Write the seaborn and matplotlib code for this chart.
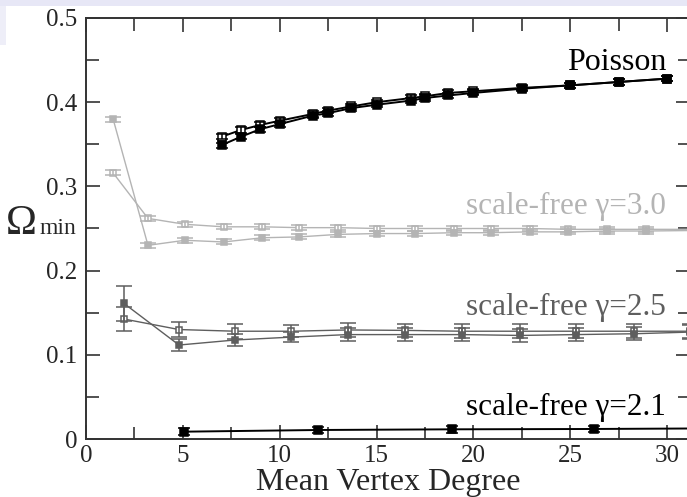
import matplotlib
matplotlib.use("Agg")
import matplotlib.pyplot as plt
import numpy as np
import pandas as pd
import seaborn as sns
from matplotlib.patches import Rectangle
from matplotlib.ticker import MultipleLocator, FuncFormatter

# Poisson networks (open and filled squares)
poisson_x = [7, 8, 9, 10, 11.7, 12.5, 13.7, 15, 16.8, 17.5, 18.7, 20, 22.5, 25, 27.5, 30]
poisson_open = [0.359, 0.367, 0.373, 0.378, 0.386, 0.390, 0.395, 0.400, 0.405, 0.407,
                0.411, 0.413, 0.417, 0.420, 0.424, 0.428]
poisson_filled = [0.349, 0.359, 0.368, 0.374, 0.384, 0.387, 0.393, 0.397, 0.402, 0.405,
                  0.408, 0.411, 0.416, 0.420, 0.424, 0.428]
poisson_err = 0.003

# scale-free gamma = 3.0
sf30_x = [1.4, 3.2, 5.1, 7.1, 9.1, 11.0, 13.0, 15.0, 17.0, 19.0, 20.9, 22.9, 24.9, 26.9, 28.9, 32.8]
sf30_open = [0.316, 0.262, 0.255, 0.252, 0.252, 0.251, 0.251, 0.250, 0.250, 0.250,
             0.250, 0.250, 0.249, 0.249, 0.249, 0.249]
sf30_filled = [0.380, 0.230, 0.236, 0.234, 0.239, 0.240, 0.243, 0.244, 0.244, 0.245,
               0.245, 0.246, 0.246, 0.247, 0.247, 0.248]
sf30_err = 0.003

# scale-free gamma = 2.5
sf25_x = [1.96, 4.8, 7.7, 10.6, 13.5, 16.45, 19.4, 22.4, 25.3, 28.3, 31.2]
sf25_open = [0.1425, 0.130, 0.128, 0.128, 0.1295, 0.129, 0.128, 0.128, 0.128, 0.128, 0.128]
sf25_filled = [0.161, 0.1116, 0.1176, 0.121, 0.124, 0.124, 0.124, 0.123, 0.124, 0.125, 0.127]
sf25_err_open = [0.014, 0.009, 0.009, 0.007, 0.008, 0.008, 0.008, 0.008, 0.008, 0.008, 0.008]
sf25_err_filled = [0.021, 0.007, 0.007, 0.006, 0.008, 0.008, 0.008, 0.008, 0.008, 0.008, 0.008]

# scale-free gamma = 2.1
sf21_x = [5.07, 12.0, 18.9, 26.2, 33.2]
sf21_y = [0.0087, 0.0107, 0.0115, 0.0119, 0.0127]
sf21_err = 0.004

BLACK = "#000000"
LIGHT = "#b4b4b4"
DARK = "#5e5e5e"
FONT = ["Liberation Serif", "DejaVu Serif"]


def draw_series(ax, x, y, err, color, filled, ms, lw, capsize):
    df = pd.DataFrame({"x": x, "y": y})
    sns.lineplot(
        data=df, x="x", y="y", ax=ax, color=color, lw=lw, marker="s",
        markersize=ms, markerfacecolor=color if filled else "white",
        markeredgecolor=color, markeredgewidth=1.1, sort=False, legend=False,
    )
    ax.errorbar(x, y, yerr=err, fmt="none", ecolor=color, elinewidth=1.1,
                capsize=capsize, capthick=1.1, zorder=3)


def main():
    sns.set_theme(style="ticks")
    plt.rcParams["font.family"] = FONT

    fig = plt.figure(figsize=(6.87, 4.97), dpi=100)
    fig.patch.set_facecolor("white")
    # slide background strip at top/left
    fig.patches.append(Rectangle((0, 1 - 6 / 497), 1, 6 / 497, transform=fig.transFigure,
                                 facecolor="#e7e7f6", edgecolor="none", zorder=0))
    fig.patches.append(Rectangle((0, 1 - 45 / 497), 6 / 687, 39 / 497, transform=fig.transFigure,
                                 facecolor="#eeeef8", edgecolor="none", zorder=0))

    ax = fig.add_axes([86 / 687, 58 / 497, 604 / 687, 421 / 497])

    draw_series(ax, sf30_x, sf30_open, sf30_err, LIGHT, False, 5, 1.0, 5.5)
    draw_series(ax, sf30_x, sf30_filled, sf30_err, LIGHT, True, 5, 1.0, 5.5)
    draw_series(ax, sf25_x, sf25_open, sf25_err_open, DARK, False, 5, 1.0, 5.5)
    draw_series(ax, sf25_x, sf25_filled, sf25_err_filled, DARK, True, 5, 1.0, 5.5)
    draw_series(ax, sf21_x, sf21_y, sf21_err, BLACK, True, 5.5, 1.4, 4)
    draw_series(ax, poisson_x, poisson_open, poisson_err, BLACK, False, 5.5, 1.4, 4)
    draw_series(ax, poisson_x, poisson_filled, poisson_err, BLACK, True, 5.5, 1.4, 4)

    ax.set_xlim(0, 31.18)
    ax.set_ylim(0, 0.5)
    ax.xaxis.set_major_locator(MultipleLocator(5))
    ax.xaxis.set_minor_locator(MultipleLocator(2.5))
    ax.yaxis.set_major_locator(MultipleLocator(0.1))
    ax.yaxis.set_minor_locator(MultipleLocator(0.05))
    ax.yaxis.set_major_formatter(FuncFormatter(lambda v, p: f"{v:g}"))
    ax.xaxis.set_major_formatter(FuncFormatter(lambda v, p: f"{v:g}"))
    ax.tick_params(which="both", direction="in", top=True, right=True,
                   color="#333333", width=1.2, labelsize=18)
    ax.tick_params(axis="y", pad=6)
    ax.tick_params(axis="x", pad=4)
    ax.tick_params(which="major", length=10)
    ax.tick_params(which="minor", length=9)
    for spine in ax.spines.values():
        spine.set_color("#333333")
        spine.set_linewidth(1.4)

    ax.set_xlabel("Mean Vertex Degree", fontsize=23, labelpad=1)
    ax.set_ylabel("")

    fig.text(6 / 687, 1 - 234 / 497, "Ω", fontsize=30, ha="left", va="baseline")
    fig.text(40 / 687, 1 - 234 / 497, "min", fontsize=17, ha="left", va="baseline")

    ax.text(29.95, 0.438, "Poisson", fontsize=23, color=BLACK, ha="right", va="baseline")
    ax.text(29.95, 0.267, "scale-free γ=3.0", fontsize=22.5, color=LIGHT, ha="right", va="baseline")
    ax.text(29.95, 0.147, "scale-free γ=2.5", fontsize=22.5, color=DARK, ha="right", va="baseline")
    ax.text(29.95, 0.028, "scale-free γ=2.1", fontsize=22.5, color=BLACK, ha="right", va="baseline")

    fig.savefig("out.png", dpi=100)


if __name__ == "__main__":
    main()
